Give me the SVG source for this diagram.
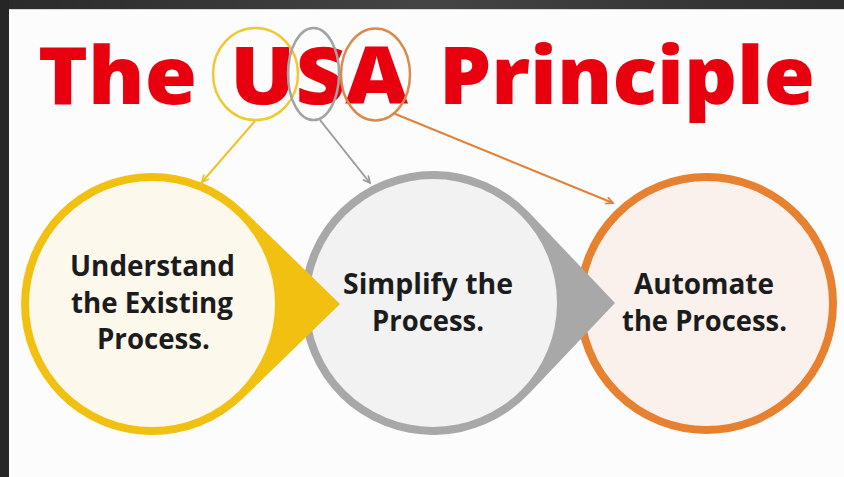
<svg xmlns="http://www.w3.org/2000/svg" width="844" height="477" viewBox="0 0 844 477">
  <defs>
    <linearGradient id="band" x1="0" y1="0" x2="1" y2="0">
      <stop offset="0" stop-color="#2a2a2a"/>
      <stop offset="0.5" stop-color="#444444"/>
      <stop offset="1" stop-color="#2e2e2e"/>
    </linearGradient>
    <marker id="arrY" markerWidth="10" markerHeight="10" refX="8" refY="4" orient="auto" markerUnits="userSpaceOnUse">
      <path d="M1,0.5 L8,4 L1,7.5" fill="none" stroke="#efc12a" stroke-width="1.8"/>
    </marker>
    <marker id="arrG" markerWidth="10" markerHeight="10" refX="8" refY="4" orient="auto" markerUnits="userSpaceOnUse">
      <path d="M1,0.5 L8,4 L1,7.5" fill="none" stroke="#9c9c9c" stroke-width="1.8"/>
    </marker>
    <marker id="arrO" markerWidth="10" markerHeight="10" refX="8" refY="4" orient="auto" markerUnits="userSpaceOnUse">
      <path d="M1,0.5 L8,4 L1,7.5" fill="none" stroke="#e0823a" stroke-width="1.8"/>
    </marker>
  </defs>
  <style>
    .title { font-family: "Open Sans", "Liberation Sans", sans-serif; font-weight: 800; font-size: 80px; fill: #e8000e; }
    .label { font-family: "Open Sans", "Liberation Sans", sans-serif; font-weight: 700; font-size: 28px; fill: #1c1c1c; text-anchor: middle; }
    .ring { fill: none; stroke-width: 2.5; }
    .conn { fill: none; stroke-width: 2; }
  </style>

  <!-- background and frame -->
  <rect x="0" y="0" width="844" height="477" fill="#fcfcfc"/>
  <rect x="0" y="0" width="844" height="9" fill="url(#band)"/>
  <rect x="0" y="0" width="9" height="477" fill="#262626"/>
  <line x1="9" y1="9.5" x2="844" y2="9.5" stroke="#d8d8d8" stroke-width="1"/>

  <!-- title -->
  <g id="title">
    <text class="title" x="38" y="104" textLength="159" lengthAdjust="spacingAndGlyphs">The</text>
    <text class="title" x="230" y="104" textLength="178" lengthAdjust="spacingAndGlyphs">USA</text>
    <text class="title" x="439" y="104" textLength="376" lengthAdjust="spacingAndGlyphs">Principle</text>
    <ellipse class="ring" cx="255.5" cy="74" rx="42.5" ry="46" stroke="#f0c832"/>
    <ellipse class="ring" cx="313.5" cy="74" rx="25.5" ry="46" stroke="#a3a3a3"/>
    <ellipse class="ring" cx="375.5" cy="74.5" rx="34.5" ry="46" stroke="#d98b4e"/>
  </g>

  <!-- connectors -->
  <g id="connectors">
    <line class="conn" x1="255" y1="121" x2="202" y2="182" stroke="#efc12a" marker-end="url(#arrY)"/>
    <line class="conn" x1="320" y1="120" x2="370" y2="183" stroke="#9c9c9c" marker-end="url(#arrG)"/>
    <line class="conn" x1="393" y1="113" x2="613" y2="203" stroke="#e0823a" marker-end="url(#arrO)"/>
  </g>

  <!-- Automate (orange) -->
  <g id="node-automate">
    <circle cx="706.5" cy="303.5" r="126.5" fill="#fbf1ec" stroke="#e8812f" stroke-width="8"/>
    <text class="label" x="704" y="294" textLength="140" lengthAdjust="spacingAndGlyphs">Automate</text>
    <text class="label" x="704.5" y="331" textLength="165" lengthAdjust="spacingAndGlyphs">the Process.</text>
  </g>

  <!-- Simplify (grey) -->
  <g id="node-simplify">
    <path d="M615,303 L528.7,212.1 A132,132 0 1 0 528.7,393.9 Z" fill="#a8a8a8"/>
    <circle cx="433" cy="303" r="124" fill="#f2f2f2"/>
    <text class="label" x="428" y="294" textLength="170" lengthAdjust="spacingAndGlyphs">Simplify the</text>
    <text class="label" x="428" y="331" textLength="112" lengthAdjust="spacingAndGlyphs">Process.</text>
  </g>

  <!-- Understand (yellow) -->
  <g id="node-understand">
    <path d="M340,304 L243.3,210 A131,131 0 1 0 243.3,398 Z" fill="#f2c011"/>
    <circle cx="152" cy="304" r="123" fill="#fcf8ec"/>
    <text class="label" x="152.5" y="276" textLength="165" lengthAdjust="spacingAndGlyphs">Understand</text>
    <text class="label" x="152" y="313" textLength="162" lengthAdjust="spacingAndGlyphs">the Existing</text>
    <text class="label" x="153.5" y="349" textLength="113" lengthAdjust="spacingAndGlyphs">Process.</text>
  </g>
</svg>
